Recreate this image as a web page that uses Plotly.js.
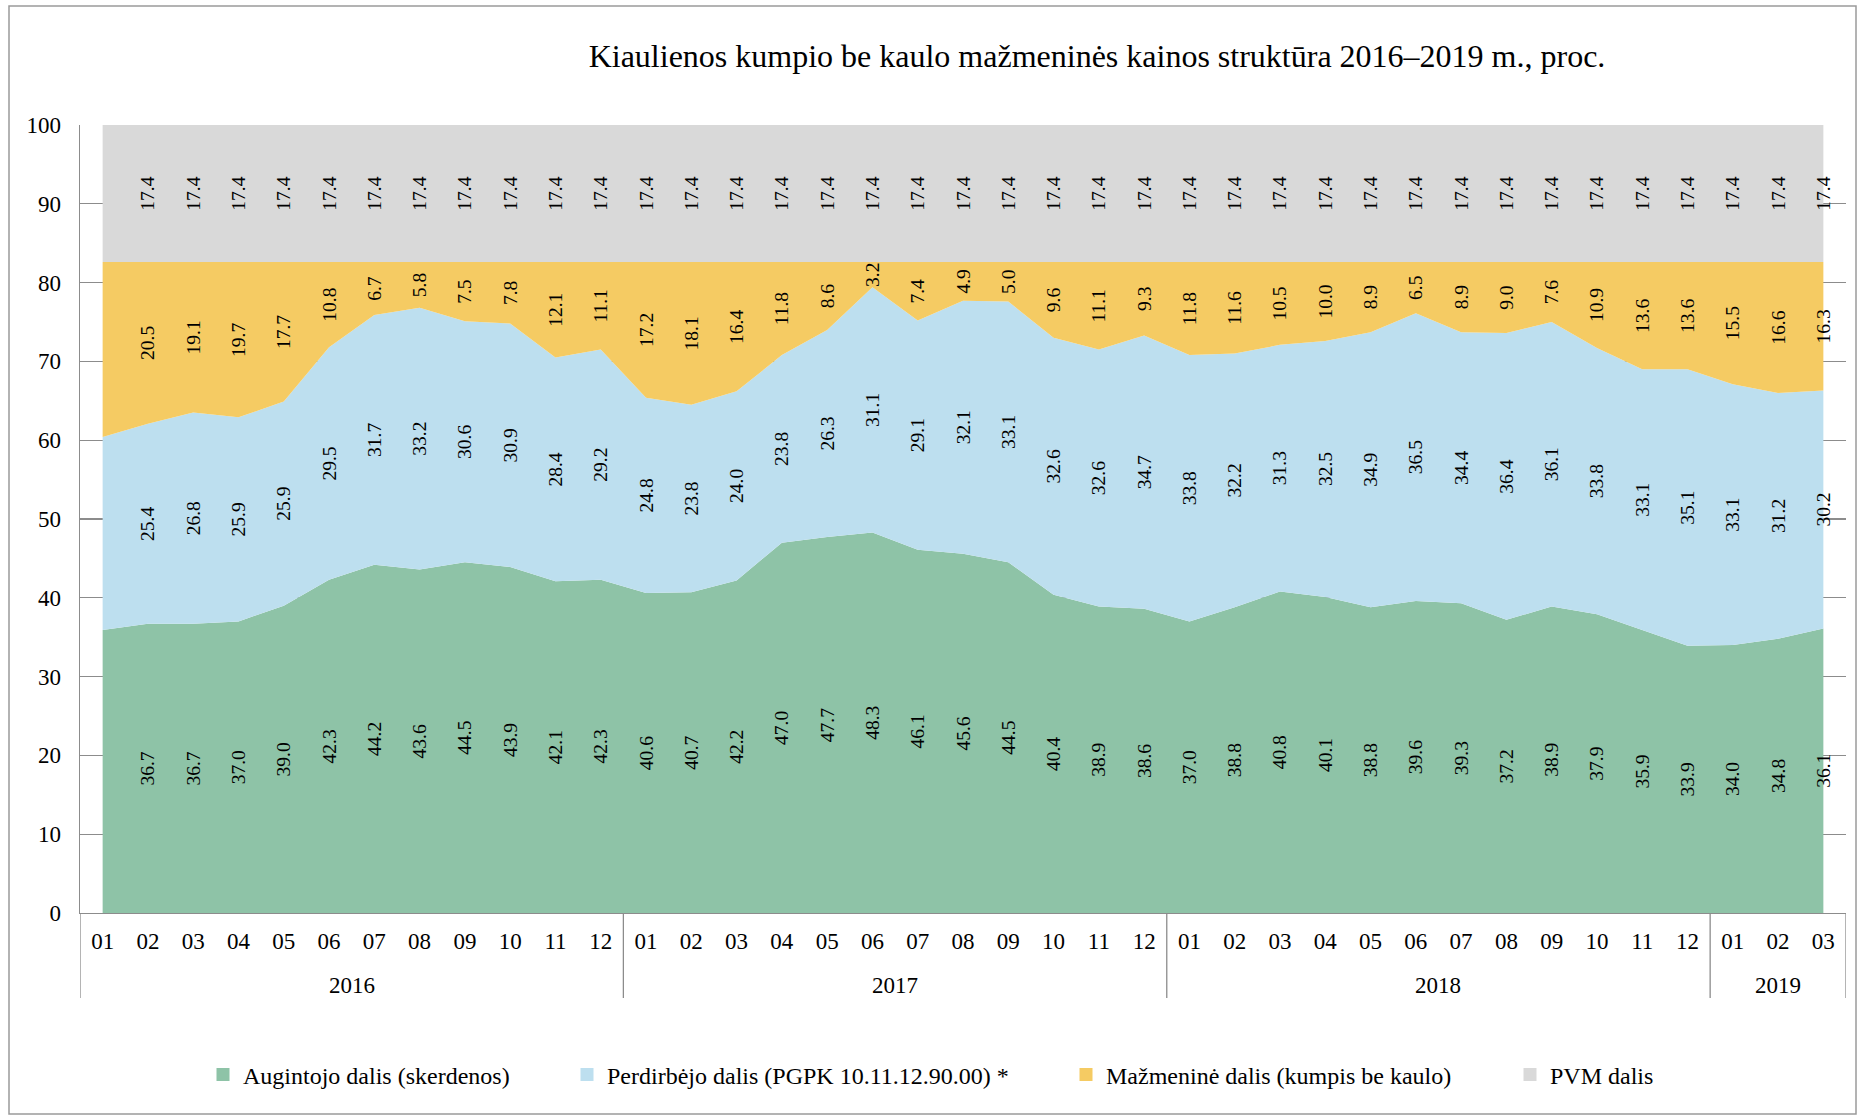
<!DOCTYPE html>
<html><head><meta charset="utf-8">
<script src="https://cdn.plot.ly/plotly-3.0.1.min.js"></script>
<style>html,body{margin:0;padding:0;background:#fff}#chart{width:1865px;height:1117px}</style>
</head><body><div id="chart"></div>
<script>
// ---------- data ----------
const years = ['2016','2016','2016','2016','2016','2016','2016','2016','2016','2016','2016','2016',
               '2017','2017','2017','2017','2017','2017','2017','2017','2017','2017','2017','2017',
               '2018','2018','2018','2018','2018','2018','2018','2018','2018','2018','2018','2018',
               '2019','2019','2019'];
const months = ['01','02','03','04','05','06','07','08','09','10','11','12',
                '01','02','03','04','05','06','07','08','09','10','11','12',
                '01','02','03','04','05','06','07','08','09','10','11','12',
                '01','02','03'];
const augintojo = [35.9,36.7,36.7,37.0,39.0,42.3,44.2,43.6,44.5,43.9,42.1,42.3,
                   40.6,40.7,42.2,47.0,47.7,48.3,46.1,45.6,44.5,40.4,38.9,38.6,
                   37.0,38.8,40.8,40.1,38.8,39.6,39.3,37.2,38.9,37.9,35.9,33.9,
                   34.0,34.8,36.1];
const perdirbejo = [24.5,25.4,26.8,25.9,25.9,29.5,31.7,33.2,30.6,30.9,28.4,29.2,
                    24.8,23.8,24.0,23.8,26.3,31.1,29.1,32.1,33.1,32.6,32.6,34.7,
                    33.8,32.2,31.3,32.5,34.9,36.5,34.4,36.4,36.1,33.8,33.1,35.1,
                    33.1,31.2,30.2];
const mazmenine = [22.2,20.5,19.1,19.7,17.7,10.8,6.7,5.8,7.5,7.8,12.1,11.1,
                   17.2,18.1,16.4,11.8,8.6,3.2,7.4,4.9,5.0,9.6,11.1,9.3,
                   11.8,11.6,10.5,10.0,8.9,6.5,8.9,9.0,7.6,10.9,13.6,13.6,
                   15.5,16.6,16.3];
const pvm = [17.4,17.4,17.4,17.4,17.4,17.4,17.4,17.4,17.4,17.4,17.4,17.4,
             17.4,17.4,17.4,17.4,17.4,17.4,17.4,17.4,17.4,17.4,17.4,17.4,
             17.4,17.4,17.4,17.4,17.4,17.4,17.4,17.4,17.4,17.4,17.4,17.4,
             17.4,17.4,17.4];
const seriesNames = ['Augintojo dalis (skerdenos)','Perdirbėjo dalis (PGPK 10.11.12.90.00) *',
                     'Mažmeninė dalis (kumpis be kaulo)','PVM dalis'];
const seriesValues = [augintojo, perdirbejo, mazmenine, pvm];
const labelFrom = 1; // first month carries no data labels in the original
const titleText = 'Kiaulienos kumpio be kaulo mažmeninės kainos struktūra 2016–2019 m., proc.';

// ---------- styling ----------
const colors = ['#8EC3A7','#BDDFEF','#F5CB63','#D9D9D9'];
const FONT = '"Liberation Serif", "Times New Roman", serif';
const AXC = '#8c8c8c';
const W = 1865, H = 1117;
const M = {l: 80, r: 19, t: 125, b: 204};
const pw = W - M.l - M.r, ph = H - M.t - M.b;
const px2x = p => (p - M.l) / pw;
const py2y = p => (H - M.b - p) / ph;

const idx = months.map((m, i) => i);
const xr = [-0.5, months.length - 0.5];

const traces = [];
seriesValues.forEach((vals, i) => {
  traces.push({
    type: 'scatter', x: idx, y: vals, name: seriesNames[i],
    stackgroup: 'area', mode: 'lines', line: {width: 0, color: colors[i]},
    fillcolor: colors[i], showlegend: false, hoverinfo: 'skip'
  });
});
// data labels: transparent stacked bars on an overlaying subplot (drawn above the areas)
seriesValues.forEach((vals, i) => {
  traces.push({
    type: 'bar', x: idx, y: vals, xaxis: 'x2', yaxis: 'y2', showlegend: false, hoverinfo: 'skip',
    marker: {color: 'rgba(0,0,0,0)', line: {width: 0}},
    text: vals.map((v, j) => j < labelFrom ? '' : v.toFixed(1)),
    textposition: 'inside', insidetextanchor: 'middle', textangle: -90,
    constraintext: 'none', cliponaxis: false,
    textfont: {family: FONT, size: 19.5, color: '#000'}
  });
});
// legend entries (one legend per entry, to mimic spacing of the original)
const legendTextStart = [243, 607, 1106, 1550];
const legendKeys = ['legend','legend2','legend3','legend4'];
seriesNames.forEach((n, i) => {
  traces.push({
    type: 'scatter', x: [0], y: [null], name: n, mode: 'markers',
    marker: {symbol: 'square', size: 13, color: colors[i]},
    legend: legendKeys[i], showlegend: true, hoverinfo: 'skip'
  });
});

// year group labels and dividers, derived from the years array
const groups = [];
years.forEach((y, i) => {
  if (!groups.length || groups[groups.length - 1].year !== y) groups.push({year: y, start: i, end: i});
  else groups[groups.length - 1].end = i;
});
const annotations = groups.map(g => ({
  xref: 'x', yref: 'paper', x: (g.start + g.end) / 2, y: py2y(985), yanchor: 'middle',
  text: g.year, showarrow: false, font: {family: FONT, size: 23, color: '#000'}
}));
const shapes = [];
const bounds = [groups[0].start - 0.5].concat(groups.map(g => g.end + 0.5));
bounds.forEach(b => shapes.push({type: 'line', xref: 'x', yref: 'paper', x0: b, x1: b,
  y0: py2y(913), y1: py2y(998), line: {color: AXC, width: 1.3}}));
shapes.push({type: 'rect', xref: 'paper', yref: 'paper', x0: px2x(9), x1: px2x(1856), y0: py2y(1114), y1: py2y(6),
             line: {color: '#9a9a9a', width: 1.5}, fillcolor: 'rgba(0,0,0,0)', layer: 'below'});

const layout = {
  width: W, height: H, margin: M,
  paper_bgcolor: '#fff', plot_bgcolor: '#fff',
  font: {family: FONT, size: 23, color: '#000'},
  title: {text: titleText, font: {family: FONT, size: 32, color: '#000'},
          xref: 'container', x: 1097 / W, xanchor: 'center',
          yref: 'container', y: 1 - 56 / H, yanchor: 'middle'},
  barmode: 'stack', bargap: 0,
  xaxis: {type: 'linear', range: xr, tickvals: idx, ticktext: months, showline: true, linecolor: AXC, linewidth: 1.3,
          showgrid: false, zeroline: false, ticks: '', tickfont: {family: FONT, size: 23, color: '#000'},
          ticklabelstandoff: 7},
  yaxis: {range: [0, 100], dtick: 10, tick0: 0, showgrid: true, gridcolor: AXC, gridwidth: 1.3,
          showline: true, linecolor: AXC, linewidth: 1.3, zeroline: false, ticks: '',
          tickfont: {family: FONT, size: 23, color: '#000'}, ticklabelstandoff: 13},
  xaxis2: {overlaying: 'x', range: xr, visible: false},
  yaxis2: {overlaying: 'y', range: [0, 100], visible: false},
  annotations: annotations,
  shapes: shapes
};
legendKeys.forEach((k, i) => {
  layout[k] = {orientation: 'h', x: px2x(legendTextStart[i] - 40), xanchor: 'left',
               y: py2y(1075), yanchor: 'middle', bgcolor: 'rgba(0,0,0,0)', borderwidth: 0,
               font: {family: FONT, size: 24, color: '#000'}};
});

Plotly.newPlot('chart', traces, layout, {displayModeBar: false, staticPlot: true});
</script></body></html>
